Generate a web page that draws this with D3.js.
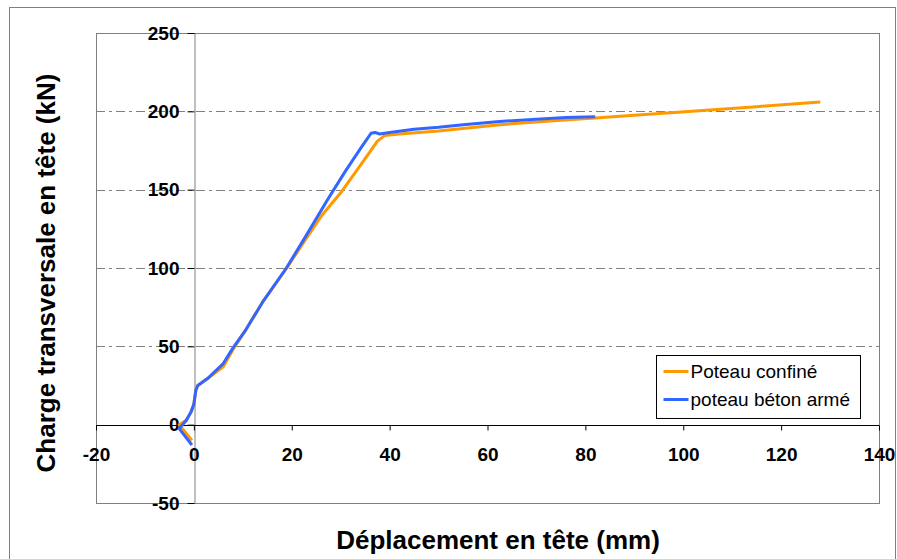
<!DOCTYPE html>
<html>
<head>
<meta charset="utf-8">
<script src="https://cdn.jsdelivr.net/npm/d3@7"></script>
<style>
  body { margin: 0; background: #fff; }
  text { font-family: "Liberation Sans", Arial, sans-serif; }
</style>
</head>
<body>
<svg id="chart"></svg>
<script>
// Series values (x = mm, y = kN)
const confineX = [-0.4, -3, -1.5, -0.6, 0, 0.4, 0.8, 3, 6, 8, 10.5, 14, 19, 23, 26, 30, 33, 35.5, 37.5, 39, 42, 50, 62.5, 75, 82, 90, 104, 115, 128];
const confineY = [-10, 0, 3, 8, 13, 22, 25, 30, 37, 48, 60, 78, 100, 119, 133, 148, 161, 172, 181, 184.5, 185.5, 187.5, 191.5, 194.3, 195.8, 197.5, 200.5, 203, 206];

const betonX = [-0.4, -3, -1.6, -0.6, 0, 0.4, 0.8, 3, 6, 8, 10.5, 14, 18.9, 23, 27.4, 31, 34, 36.2, 37, 38, 40, 45, 50, 55, 62.5, 70, 76, 82];
const betonY = [-13, -2.5, 2.5, 8, 13, 22, 25, 30, 39, 49, 60, 78, 100, 121, 144, 162, 176, 186, 186.5, 185.5, 186.5, 188.5, 189.8, 191.5, 193.5, 195, 196, 196.5];

const xTicks = [-20, 0, 20, 40, 60, 80, 100, 120, 140];
const yTicks = [-50, 0, 50, 100, 150, 200, 250];
const gridValues = [50, 100, 150, 200];

const seriesNames = ["Poteau confiné", "poteau béton armé"];
const seriesColors = ["#FF9900", "#3366FF"];

const width = 897;
const height = 559;
const margin = { top: 33, right: 18, bottom: 56, left: 96 };

const svg = d3.select("#chart")
    .attr("width", width)
    .attr("height", height);

// Outer frame
svg.append("rect")
    .attr("x", 9.5).attr("y", 7.5)
    .attr("width", 886).attr("height", 560)
    .attr("fill", "none")
    .attr("stroke", "#808080")
    .attr("stroke-width", 1);

const xScale = d3.scaleLinear()
    .domain([-20, 140])
    .range([margin.left, width - margin.right]);

const yScale = d3.scaleLinear()
    .domain([-50, 250])
    .range([height - margin.bottom, margin.top]);

// Grid lines (dash-dot)
svg.selectAll(".grid")
    .data(gridValues)
    .enter()
    .append("line")
    .attr("class", "grid")
    .attr("x1", xScale(-20))
    .attr("x2", xScale(140))
    .attr("y1", d => Math.round(yScale(d)) + 0.5)
    .attr("y2", d => Math.round(yScale(d)) + 0.5)
    .attr("stroke", "#808080")
    .attr("stroke-dasharray", "9,4,3,4");

// Plot area border
svg.append("rect")
    .attr("x", xScale(-20) + 0.5)
    .attr("y", yScale(250) + 0.5)
    .attr("width", xScale(140) - xScale(-20))
    .attr("height", yScale(-50) - yScale(250))
    .attr("fill", "none")
    .attr("stroke", "#808080");

// Y axis at x = 0
const yAxis = svg.append("g")
    .attr("transform", `translate(${Math.round(xScale(0)) + 0.5}, 0)`)
    .call(d3.axisLeft(yScale).tickValues(yTicks).tickSize(7).tickPadding(8).tickFormat(d => String(d)));
yAxis.select(".domain").attr("stroke", "#808080");
yAxis.selectAll(".tick line").attr("stroke", "#000");
yAxis.selectAll("text")
    .style("font-size", "19px")
    .style("font-weight", "bold")
    .attr("fill", "#000");

// X axis at y = 0
const xAxis = svg.append("g")
    .attr("transform", `translate(0, ${Math.round(yScale(0)) + 0.5})`)
    .call(d3.axisBottom(xScale).tickValues(xTicks).tickSize(5).tickPadding(17).tickFormat(d => String(d)));
xAxis.select(".domain").attr("stroke", "#000").attr("d", `M${xScale(-20)},0H${xScale(140)}`);
xAxis.selectAll("text")
    .style("font-size", "19px")
    .style("font-weight", "bold")
    .attr("fill", "#000");

// Lines
const line = d3.line()
    .x(d => xScale(d[0]))
    .y(d => yScale(d[1]));

const series = [
    d3.zip(confineX, confineY),
    d3.zip(betonX, betonY)
];

svg.selectAll(".curve")
    .data(series)
    .enter()
    .append("path")
    .attr("class", "curve")
    .attr("d", line)
    .attr("fill", "none")
    .attr("stroke", (d, i) => seriesColors[i])
    .attr("stroke-width", 3)
    .attr("stroke-linejoin", "round");

// Axis titles
svg.append("text")
    .attr("x", 498)
    .attr("y", 549)
    .attr("text-anchor", "middle")
    .style("font-size", "26px")
    .style("font-weight", "bold")
    .text("Déplacement en tête (mm)");

svg.append("text")
    .attr("transform", "translate(55, 273) rotate(-90)")
    .attr("text-anchor", "middle")
    .style("font-size", "26px")
    .style("font-weight", "bold")
    .text("Charge transversale en tête (kN)");

// Legend
const legend = svg.append("g").attr("transform", "translate(656.5, 355.5)");
legend.append("rect")
    .attr("width", 204).attr("height", 63)
    .attr("fill", "#fff")
    .attr("stroke", "#000");

const items = legend.selectAll(".item")
    .data(seriesNames)
    .enter()
    .append("g")
    .attr("transform", (d, i) => `translate(0, ${16 + i * 28})`);
items.append("line")
    .attr("x1", 7).attr("x2", 32)
    .attr("stroke", (d, i) => seriesColors[i])
    .attr("stroke-width", 3);
items.append("text")
    .attr("x", 34)
    .attr("dy", "0.35em")
    .style("font-size", "19px")
    .text(d => d);
</script>
</body>
</html>
